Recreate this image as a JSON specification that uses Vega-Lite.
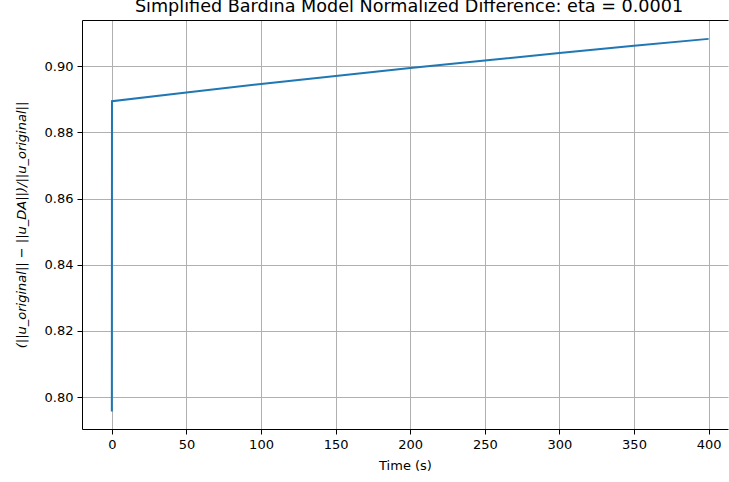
{
  "$schema": "https://vega.github.io/schema/vega-lite/v6.json",
  "autosize": "none",
  "padding": {"left": 82, "top": 20, "right": 1, "bottom": 53},
  "width": 646,
  "height": 409,
  "title": {"text": "Simplified Bardina Model Normalized Difference: eta = 0.0001", "fontSize": 17.6, "fontWeight": "normal", "font": "DejaVu Sans", "color": "#000000", "offset": 4, "anchor": "middle", "dx": 4},
  "config": {
    "view": {"stroke": null},
    "axis": {"labelFont": "DejaVu Sans", "titleFont": "DejaVu Sans", "labelFontSize": 13, "titleFontSize": 13, "titleFontWeight": "normal", "labelColor": "#000000", "titleColor": "#000000", "domainColor": "#000000", "tickColor": "#000000", "tickSize": 5, "gridColor": "#b0b0b0", "gridWidth": 1, "gridOpacity": 1, "domainWidth": 1}
  },
  "data": {"values": [
    {"t": 0, "v": 0.7957},
    {"t": 0.1, "v": 0.8894},
    {"t": 50, "v": 0.8920},
    {"t": 100, "v": 0.8946},
    {"t": 150, "v": 0.8970},
    {"t": 200, "v": 0.8994},
    {"t": 250, "v": 0.9017},
    {"t": 300, "v": 0.9039},
    {"t": 350, "v": 0.9061},
    {"t": 400, "v": 0.9082}
  ]},
  "layer": [
    {
      "mark": {"type": "line", "color": "#1f77b4", "strokeWidth": 2, "clip": true},
      "encoding": {
        "x": {"field": "t", "type": "quantitative", "scale": {"domain": [-20, 413], "nice": false, "zero": false}, "axis": {"values": [0, 50, 100, 150, 200, 250, 300, 350, 400], "title": "Time (s)", "titlePadding": 8, "labelPadding": 4, "grid": true}},
        "y": {"field": "v", "type": "quantitative", "scale": {"domain": [0.7904, 0.9139], "nice": false, "zero": false}, "axis": {"values": [0.80, 0.82, 0.84, 0.86, 0.88, 0.90], "format": ".2f", "title": "(||u_original|| − ||u_DA||)/||u_original||", "titleFontStyle": "italic", "titlePadding": 16, "labelPadding": 4, "grid": true}}
      }
    },
    {
      "mark": {"type": "line", "opacity": 0},
      "encoding": {
        "x": {"field": "t", "type": "quantitative", "scale": {"domain": [-20, 413], "nice": false, "zero": false}, "axis": {"orient": "top", "labels": false, "ticks": false, "grid": false, "title": null}}
      }
    }
  ],
  "resolve": {"axis": {"x": "independent"}}
}
